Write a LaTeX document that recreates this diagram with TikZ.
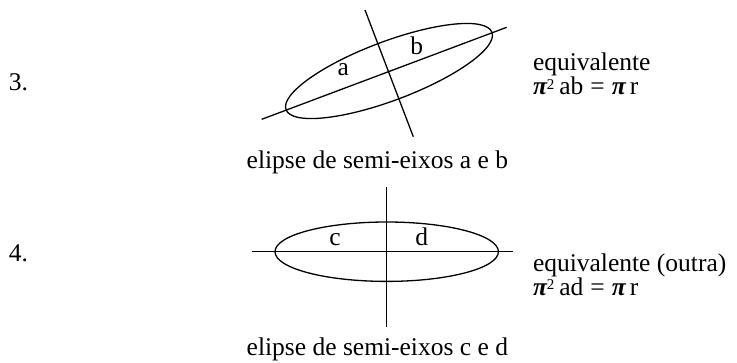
\documentclass[tikz,border=0pt]{standalone}
\usepackage{fontspec}
\setmainfont{Liberation Serif}
\newcommand{\mypi}{{\bfseries\itshape π}}
\newcommand{\mysq}{\raisebox{0.45ex}{\fontsize{15}{15}\selectfont 2}}
\begin{document}
\begin{tikzpicture}[x=1pt,y=-1pt,
  txt/.style={anchor=base west,inner sep=0pt,outer sep=0pt,font=\fontsize{25.5}{24.3}\selectfont,align=left},
  lbl/.style={inner sep=0pt,font=\fontsize{25.5}{24.3}\selectfont},
  ln/.style={line width=1.3pt}]
\useasboundingbox (0,0) rectangle (737,362);
% --- item 3
\node[txt] (n3) at (9,90) {3.};
\coordinate (c1) at (389,71);
\draw[ln,rotate around={20.6:(c1)}] (c1) ellipse [x radius=110, y radius=29.5];
\coordinate (m1a) at (261.7,119.3);
\coordinate (m1b) at (506.7,27.3);
\coordinate (p1a) at (365,10);
\coordinate (p1b) at (413.3,136.7);
\draw[ln] (m1a) -- (m1b);
\draw[ln] (p1a) -- (p1b);
\node[lbl] (la) at (343.3,70) {a};
\node[lbl] (lb) at (416.7,46) {b};
\node[txt] (eq1) at (533,94.3) {equivalente\\[-0.7pt]\mypi\mysq\hspace{5pt}ab\hspace{7pt}=\hspace{7pt}\mypi\hspace{4pt}r};
\node[txt] (cap1) at (246.7,168.3) {elipse de semi-eixos a e b};
% --- item 4
\node[txt] (n4) at (9,261.7) {4.};
\coordinate (c2) at (386.7,251.7);
\draw[ln] (c2) ellipse [x radius=111.7, y radius=29.7];
\coordinate (m2a) at (251.7,251.7);
\coordinate (m2b) at (512.7,251.7);
\coordinate (p2a) at (386.7,187);
\coordinate (p2b) at (386.7,326.7);
\draw[ln] (m2a) -- (m2b);
\draw[ln] (p2a) -- (p2b);
\node[lbl] (lc) at (335,240) {c};
\node[lbl] (ld) at (421.7,236.7) {d};
\node[txt] (eq2) at (533,295) {equivalente (outra)\\[-0.7pt]\mypi\mysq\hspace{5pt}ad\hspace{7pt}=\hspace{7pt}\mypi\hspace{4pt}r};
\node[txt] (cap2) at (246.7,355) {elipse de semi-eixos c e d};
\end{tikzpicture}
\end{document}
